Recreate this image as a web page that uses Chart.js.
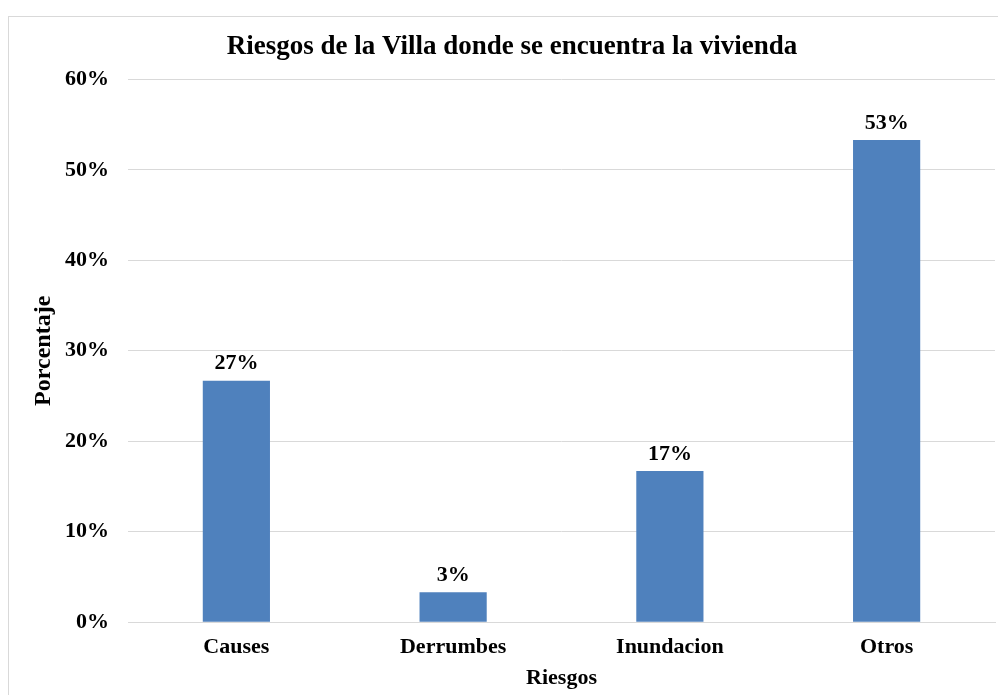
<!DOCTYPE html>
<html>
<head>
<meta charset="utf-8">
<script src="https://cdn.jsdelivr.net/npm/chart.js@4.4.1/dist/chart.umd.min.js"></script>
<style>
  html, body { margin: 0; padding: 0; background: #fff; }
  #wrap { position: relative; width: 998px; height: 695px; overflow: hidden; }
  #frame {
    position: absolute; left: 8px; top: 16px; width: 1100px; height: 800px;
    border: 1px solid #d9d9d9; pointer-events: none;
  }
  canvas { position: absolute; left: 0; top: 0; }
</style>
</head>
<body>
<div id="wrap">
  <canvas id="riesgosChart" width="998" height="695"></canvas>
  <div id="frame"></div>
</div>
<script>
// Riesgos de la Villa - bar chart
const categories = ["Causes", "Derrumbes", "Inundacion", "Otros"];
const percentages = [26.7, 3.3, 16.7, 53.3];
const pointLabels = ["27%", "3%", "17%", "53%"];
const yTickValues = [0, 10, 20, 30, 40, 50, 60];

const SERIF = "'Liberation Serif', 'Times New Roman', serif";

// draws the value above each bar
const barLabels = {
  id: "barLabels",
  afterDatasetsDraw(chart) {
    const ctx = chart.ctx;
    const meta = chart.getDatasetMeta(0);
    ctx.save();
    ctx.font = "bold 22px " + SERIF;
    ctx.fillStyle = "#000";
    ctx.textAlign = "center";
    ctx.textBaseline = "bottom";
    meta.data.forEach((bar, i) => {
      ctx.fillText(pointLabels[i], bar.x, bar.y - 6);
    });
    ctx.restore();
  }
};

new Chart(document.getElementById("riesgosChart"), {
  type: "bar",
  data: {
    labels: categories,
    datasets: [{
      data: percentages,
      backgroundColor: "#4f81bd",
      borderWidth: 0,
      barPercentage: 0.31,
      categoryPercentage: 1
    }]
  },
  options: {
    responsive: false,
    animation: false,
    layout: { padding: { top: 12, left: 29, right: 3, bottom: 3 } },
    plugins: {
      legend: { display: false },
      tooltip: { enabled: false },
      title: {
        display: true,
        text: "Riesgos de la Villa donde se encuentra la vivienda",
        color: "#000",
        font: { family: SERIF, size: 27, weight: "bold" },
        padding: { top: 19, bottom: 16 }
      }
    },
    scales: {
      y: {
        min: 0,
        max: 60,
        afterBuildTicks: axis => { axis.ticks = yTickValues.map(v => ({ value: v })); },
        afterFit: axis => { axis.width = 99; },
        ticks: {
          color: "#000",
          font: { family: SERIF, size: 22, weight: "bold" },
          padding: 19,
          callback: v => v + "%"
        },
        grid: { color: "#d9d9d9", drawTicks: false },
        border: { display: false },
        title: {
          display: true,
          text: "Porcentaje",
          color: "#000",
          font: { family: SERIF, size: 24, weight: "bold" },
          padding: 0
        }
      },
      x: {
        grid: { display: false },
        border: { color: "#d9d9d9" },
        ticks: {
          color: "#000",
          font: { family: SERIF, size: 22, weight: "bold" },
          padding: 4
        },
        title: {
          display: true,
          text: "Riesgos",
          color: "#000",
          font: { family: SERIF, size: 22, weight: "bold" },
          padding: { top: 1, bottom: 0 }
        }
      }
    }
  },
  plugins: [barLabels]
});
</script>
</body>
</html>
